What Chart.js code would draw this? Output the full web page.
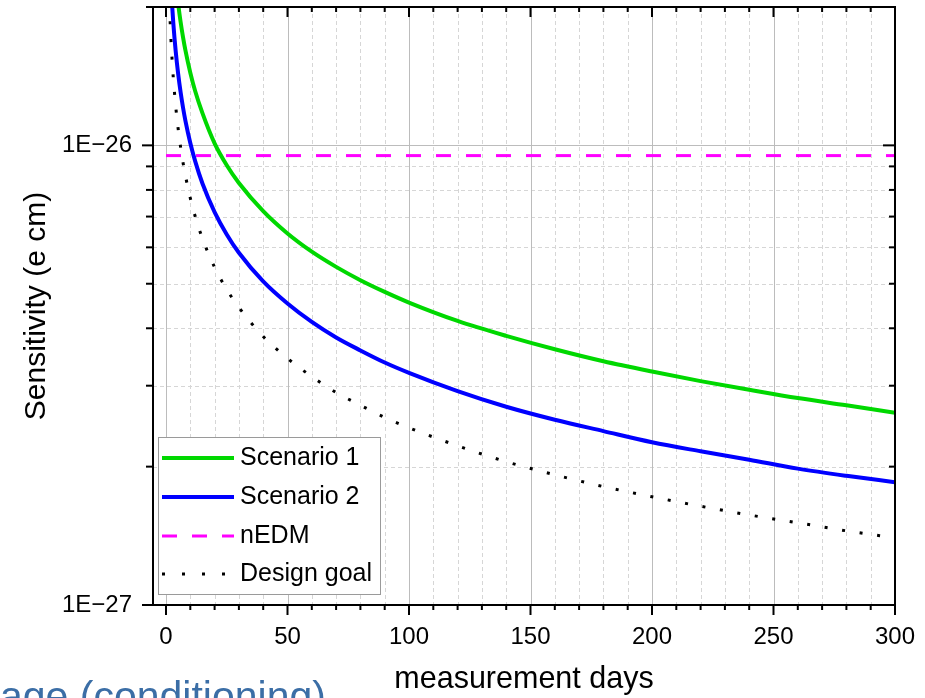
<!DOCTYPE html>
<html>
<head>
<meta charset="utf-8">
<script src="https://cdn.jsdelivr.net/npm/chart.js@4.4.1/dist/chart.umd.min.js"></script>
<style>
html,body{margin:0;padding:0;background:#fff;}
#wrap{width:925px;height:698px;position:relative;overflow:hidden;}
</style>
</head>
<body>
<div id="wrap"><canvas id="c" width="925" height="698"></canvas></div>
<script>
// ---- data ----
const days       = [1, 1.5, 2, 2.5, 3, 4, 5, 6, 7, 8, 10, 12, 15, 20, 25, 30, 40, 50, 60, 70, 80, 90, 100, 120, 140, 160, 180, 200, 220, 240, 260, 280, 300];
const scenario1  = [4.55e-26, 3.715e-26, 3.217e-26, 2.878e-26, 2.627e-26, 2.275e-26, 2.035e-26, 1.857e-26, 1.720e-26, 1.609e-26, 1.439e-26, 1.313e-26, 1.175e-26, 1.010e-26, 9.05e-27, 8.28e-27, 7.19e-27, 6.43e-27, 5.87e-27, 5.44e-27, 5.09e-27, 4.80e-27, 4.55e-27, 4.15e-27, 3.85e-27, 3.60e-27, 3.39e-27, 3.22e-27, 3.07e-27, 2.94e-27, 2.82e-27, 2.72e-27, 2.62e-27];
const scenario2  = [3.20e-26, 2.613e-26, 2.263e-26, 2.024e-26, 1.848e-26, 1.600e-26, 1.431e-26, 1.306e-26, 1.209e-26, 1.131e-26, 1.012e-26, 9.24e-27, 8.26e-27, 7.16e-27, 6.40e-27, 5.84e-27, 5.06e-27, 4.53e-27, 4.13e-27, 3.82e-27, 3.58e-27, 3.37e-27, 3.20e-27, 2.92e-27, 2.70e-27, 2.53e-27, 2.39e-27, 2.26e-27, 2.16e-27, 2.07e-27, 1.98e-27, 1.91e-27, 1.85e-27];
const designGoal = [2.43e-26, 1.984e-26, 1.718e-26, 1.537e-26, 1.403e-26, 1.215e-26, 1.087e-26, 9.92e-27, 9.18e-27, 8.59e-27, 7.68e-27, 7.01e-27, 6.27e-27, 5.43e-27, 4.86e-27, 4.44e-27, 3.84e-27, 3.44e-27, 3.14e-27, 2.90e-27, 2.72e-27, 2.56e-27, 2.43e-27, 2.22e-27, 2.05e-27, 1.92e-27, 1.81e-27, 1.72e-27, 1.64e-27, 1.57e-27, 1.51e-27, 1.45e-27, 1.40e-27];
const nedmDays   = [0, 300];
const nedmLevel  = [9.5e-27, 9.5e-27];
const seriesNames = ['Scenario 1', 'Scenario 2', 'nEDM', 'Design goal'];

const xMajorTicks = [0, 50, 100, 150, 200, 250, 300];
const xMinorTicks = [10, 20, 30, 40, 60, 70, 80, 90, 110, 120, 130, 140, 160, 170, 180, 190, 210, 220, 230, 240, 260, 270, 280, 290];
const yMajorTicks = [1e-27, 1e-26];
const yTickLabels = ['1E\u221227', '1E\u221226'];
const yMinorTicks = [2e-27, 3e-27, 4e-27, 5e-27, 6e-27, 7e-27, 8e-27, 9e-27, 2e-26];
const xRange = [-5.35, 300];
const yRange = [1e-27, 2e-26];

const xTitle = 'measurement days';
const yTitle = 'Sensitivity (e cm)';
const overlayText = 'age (conditioning)';

const FONT = "'Liberation Sans', Arial, Helvetica, sans-serif";

const pts = (xs, ys) => xs.map((v, i) => ({x: v, y: ys[i]}));

const framePlugin = {
  id: 'framePlugin',
  beforeDatasetsDraw(chart) {
    const {ctx, chartArea: a, scales: {x, y}} = chart;
    const line = (x1, y1, x2, y2) => { ctx.beginPath(); ctx.moveTo(x1, y1); ctx.lineTo(x2, y2); ctx.stroke(); };
    ctx.save();
    ctx.lineWidth = 1;
    ctx.strokeStyle = '#d6d6d6';
    ctx.setLineDash([4, 3]);
    xMinorTicks.forEach(v => { const p = Math.round(x.getPixelForValue(v)) + 0.5; line(p, a.top, p, a.bottom); });
    yMinorTicks.forEach(v => { const p = Math.round(y.getPixelForValue(v)) + 0.5; line(a.left, p, a.right, p); });
    ctx.setLineDash([]);
    ctx.strokeStyle = '#bcbcbc';
    xMajorTicks.forEach(v => { const p = Math.round(x.getPixelForValue(v)) + 0.5; line(p, a.top, p, a.bottom); });
    yMajorTicks.forEach(v => { const p = Math.round(y.getPixelForValue(v)) + 0.5; line(a.left, p, a.right, p); });
    ctx.restore();
  },
  afterDatasetsDraw(chart) {
    const {ctx, chartArea: a, scales: {x, y}} = chart;
    const line = (x1, y1, x2, y2) => { ctx.beginPath(); ctx.moveTo(x1, y1); ctx.lineTo(x2, y2); ctx.stroke(); };
    ctx.save();
    ctx.strokeStyle = '#000';
    ctx.lineWidth = 2;
    ctx.setLineDash([]);
    ctx.beginPath();
    ctx.rect(a.left, a.top, a.right - a.left, a.bottom - a.top);
    ctx.stroke();
    xMajorTicks.forEach(v => { const p = x.getPixelForValue(v); line(p, a.bottom, p, a.bottom + 10); line(p, a.top, p, a.top + 10); });
    xMinorTicks.forEach(v => { const p = x.getPixelForValue(v); line(p, a.bottom, p, a.bottom + 5); line(p, a.top, p, a.top + 5); });
    yMajorTicks.forEach(v => { const p = y.getPixelForValue(v); line(a.left - 11, p, a.left, p); line(a.right - 12, p, a.right, p); });
    yMinorTicks.forEach(v => { const p = y.getPixelForValue(v); line(a.left - 7, p, a.left, p); line(a.right - 6, p, a.right, p); });

    // legend
    const bx = 158, by = 437, bw = 222, bh = 157;
    ctx.fillStyle = '#fff';
    ctx.fillRect(bx, by, bw, bh);
    ctx.lineWidth = 1;
    ctx.strokeStyle = '#9a9a9a';
    ctx.strokeRect(bx + 0.5, by + 0.5, bw, bh);
    const rows = [458, 497, 536, 574];
    const sampleDash = [null, null, [15, 15], [3, 17]];
    ctx.font = '25px ' + FONT;
    ctx.textBaseline = 'middle';
    ctx.textAlign = 'left';
    chart.data.datasets.forEach((ds, i) => {
      const ry = rows[i];
      ctx.strokeStyle = ds.borderColor;
      ctx.lineWidth = ds.borderWidth;
      ctx.lineCap = ds.borderCapStyle || 'butt';
      ctx.setLineDash(sampleDash[i] || ds.borderDash || []);
      line(162, ry, 234, ry);
      ctx.setLineDash([]);
      ctx.fillStyle = '#000';
      ctx.fillText(ds.label, 240, ry);
    });
    ctx.restore();
  },
  afterDraw(chart) {
    const {ctx} = chart;
    ctx.save();
    ctx.font = '41px ' + FONT;
    ctx.fillStyle = '#3b6ea6';
    ctx.textBaseline = 'alphabetic';
    ctx.textAlign = 'left';
    ctx.fillText(overlayText, 0, 710);
    ctx.restore();
  }
};

new Chart(document.getElementById('c'), {
  type: 'line',
  data: {
    datasets: [
      {label: seriesNames[0], data: pts(days, scenario1), borderColor: '#00d800', borderWidth: 4, pointRadius: 0, cubicInterpolationMode: 'monotone', fill: false},
      {label: seriesNames[1], data: pts(days, scenario2), borderColor: '#0000ff', borderWidth: 4, pointRadius: 0, cubicInterpolationMode: 'monotone', fill: false},
      {label: seriesNames[2], data: pts(nedmDays, nedmLevel), borderColor: '#ff00ff', borderWidth: 3, borderDash: [15, 15], pointRadius: 0, fill: false},
      {label: seriesNames[3], data: pts(days, designGoal), borderColor: '#000000', borderWidth: 3, borderDash: [3, 14.7], pointRadius: 0, cubicInterpolationMode: 'monotone', fill: false}
    ]
  },
  options: {
    responsive: false,
    devicePixelRatio: 1,
    animation: false,
    layout: {padding: {top: 7, right: 30, left: 0, bottom: 0}},
    plugins: {legend: {display: false}, tooltip: {enabled: false}, title: {display: false}},
    scales: {
      x: {
        type: 'linear', min: xRange[0], max: xRange[1],
        afterBuildTicks: s => { s.ticks = xMajorTicks.map(v => ({value: v})); },
        afterFit: s => { s.height = 93; s.paddingLeft = 0; s.paddingRight = 0; },
        grid: {display: false, drawTicks: false},
        border: {display: false},
        ticks: {color: '#000', font: {family: FONT, size: 24}, padding: 18, maxRotation: 0, autoSkip: false},
        title: {display: true, text: xTitle, color: '#000', font: {family: FONT, size: 30.5}, padding: {top: 0, bottom: 0}}
      },
      y: {
        type: 'logarithmic', min: yRange[0], max: yRange[1],
        afterBuildTicks: s => { s.ticks = yMajorTicks.map(v => ({value: v})); },
        afterFit: s => { s.width = 153; s.paddingTop = 0; s.paddingBottom = 0; },
        grid: {display: false, drawTicks: false},
        border: {display: false},
        ticks: {color: '#000', font: {family: FONT, size: 24}, padding: 21, autoSkip: false, callback: (v, i) => yTickLabels[i]},
        title: {display: true, text: yTitle, color: '#000', font: {family: FONT, size: 30}, padding: {top: 19, bottom: 0}}
      }
    }
  },
  plugins: [framePlugin]
});
</script>
</body>
</html>
